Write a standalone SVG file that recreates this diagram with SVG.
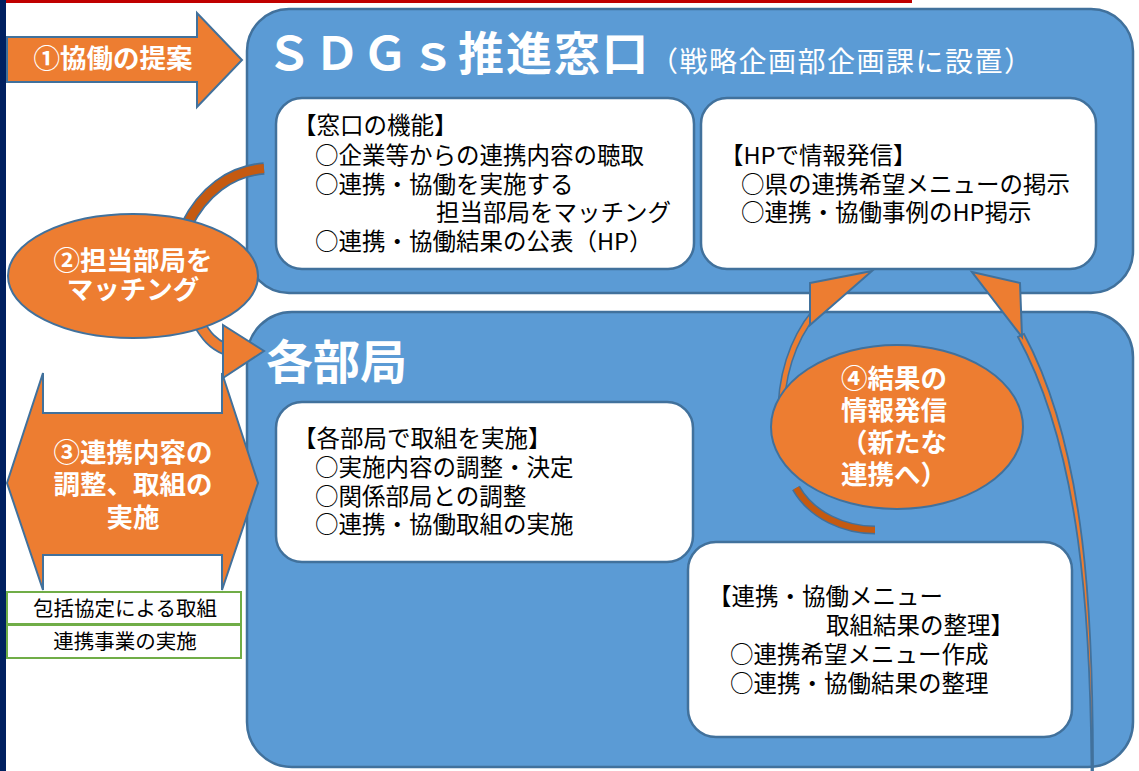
<svg xmlns="http://www.w3.org/2000/svg" width="1139" height="771" viewBox="0 0 1139 771">
<style>
.blue{fill:#5B9BD5;stroke:#41719C;stroke-width:2.5}
.wbox{fill:#FFFFFF;stroke:#41719C;stroke-width:2.5}
.org{fill:#ED7D31;stroke:#41719C;stroke-width:2}
.t{font-family:"Noto Sans CJK JP","Noto Sans",sans-serif;fill:#000000;font-size:23.5px}
.w{font-family:"Noto Sans CJK JP","Noto Sans",sans-serif;fill:#FFFFFF;font-weight:bold;font-size:26.5px}
.g{font-family:"Noto Sans CJK JP","Noto Sans",sans-serif;fill:#000000;font-size:20.5px}
.bandOut{fill:none;stroke:#41719C;stroke-linecap:butt}
</style>
<rect x="0" y="0" width="1139" height="771" fill="#FFFFFF"/>
<rect x="0" y="0" width="6" height="771" fill="#002060"/>
<rect x="6" y="0" width="906" height="3" fill="#C00000"/>

<g id="sdgs-window">
<rect class="blue" x="247" y="9" width="886" height="284" rx="42"/>
<text x="266" y="70" font-family="'Noto Sans CJK JP','Noto Sans',sans-serif" font-weight="bold" font-size="46" letter-spacing="2" fill="#FFFFFF">ＳＤＧｓ推進窓口</text>
<text x="650" y="72" font-family="'Noto Sans CJK JP','Noto Sans',sans-serif" font-size="28" letter-spacing="1.5" fill="#FFFFFF">（戦略企画部企画課に設置）</text>
</g>
<g id="departments">
<rect class="blue" x="247" y="312" width="886" height="455" rx="45"/>
<text x="266" y="379" font-family="'Noto Sans CJK JP','Noto Sans',sans-serif" font-weight="bold" font-size="47" fill="#FFFFFF">各部局</text>
</g>

<g id="window-functions">
<rect class="wbox" x="276" y="98" width="418" height="171" rx="26"/>
<text class="t" x="293" y="134">【窓口の機能】</text>
<text class="t" x="315" y="164">○企業等からの連携内容の聴取</text>
<text class="t" x="315" y="193">○連携・協働を実施する</text>
<text class="t" x="436" y="221">担当部局をマッチング</text>
<text class="t" x="315" y="250">○連携・協働結果の公表（HP）</text>
</g>
<g id="hp-info">
<rect class="wbox" x="701" y="98" width="395" height="171" rx="26"/>
<text class="t" x="720" y="164">【HPで情報発信】</text>
<text class="t" x="741" y="193">○県の連携希望メニューの掲示</text>
<text class="t" x="741" y="221">○連携・協働事例のHP掲示</text>
</g>
<g id="dept-implementation">
<rect class="wbox" x="276" y="402" width="417" height="160" rx="26"/>
<text class="t" x="293" y="447">【各部局で取組を実施】</text>
<text class="t" x="315" y="476">○実施内容の調整・決定</text>
<text class="t" x="315" y="505">○関係部局との調整</text>
<text class="t" x="315" y="533">○連携・協働取組の実施</text>
</g>
<g id="menu-results">
<rect class="wbox" x="688" y="542" width="384" height="195" rx="28"/>
<text class="t" x="708" y="605">【連携・協働メニュー</text>
<text class="t" x="826" y="634">取組結果の整理】</text>
<text class="t" x="730" y="663">○連携希望メニュー作成</text>
<text class="t" x="730" y="692">○連携・協働結果の整理</text>
</g>

<g id="connectors">
<!-- ① proposal arrow -->
<polygon class="org" points="7,37 197,37 197,13 242,60 197,107 197,82 7,82"/>
<!-- ② curved arrow band -->
<path class="bandOut" stroke-width="12.5" d="M264,168.5 C230,171 203,192 186,226"/>
<path fill="none" stroke="#C55A11" stroke-width="9" d="M264,168.5 C230,171 203,192 186,226"/>
<path class="bandOut" stroke-width="12.5" d="M198,322 C206,336 213,344 225,349"/>
<path fill="none" stroke="#ED7D31" stroke-width="9" d="M198,322 C206,336 213,344 225,349"/>
<polygon class="org" points="223,325 264,351 223,378"/>
<!-- ③ left-right arrow -->
<polygon class="org" points="7,483 43,373 43,413 222,413 222,373 258,483 222,590 222,555 43,555 43,590"/>
<!-- ④ curved arrow (left) -->
<path class="bandOut" stroke-width="9" d="M875,530 C845,530 812,516 796,488"/>
<path fill="none" stroke="#C55A11" stroke-width="6" d="M875,530 C845,530 812,516 796,488"/>
<path class="bandOut" stroke-width="7.5" d="M781,420 C780,378 792,340 815,312"/>
<path fill="none" stroke="#ED7D31" stroke-width="4.5" d="M781,420 C780,378 792,340 815,312"/>
<polygon class="org" points="810,283 872,271 810,325"/>
<!-- ④ long arrow (right) -->
<path fill="#ED7D31" stroke="#41719C" stroke-width="1.8" d="M1093,771 C1093,620 1087,452 1024,334 L1018,337 C1081,452 1090.5,620 1091.5,771 Z"/>
<polygon class="org" points="972,272 1020,283 1022,337"/>
</g>

<g id="matching">
<ellipse class="org" cx="133" cy="276" rx="125" ry="62"/>
<text class="w" x="133" y="270" text-anchor="middle">②担当部局を</text>
<text class="w" x="133" y="299" text-anchor="middle">マッチング</text>
</g>
<g id="proposal-label">
<text class="w" x="113" y="68" text-anchor="middle">①協働の提案</text>
</g>
<g id="coordination-label">
<text class="w" x="133" y="462" text-anchor="middle">③連携内容の</text>
<text class="w" x="133" y="494" text-anchor="middle">調整、取組の</text>
<text class="w" x="133" y="527" text-anchor="middle">実施</text>
</g>
<g id="result-info">
<ellipse class="org" cx="897" cy="427" rx="126" ry="82"/>
<text class="w" x="841" y="388">④結果の</text>
<text class="w" x="841" y="420">情報発信</text>
<text class="w" x="841" y="452">（新たな</text>
<text class="w" x="841" y="484">連携へ）</text>
</g>
<g id="comprehensive-agreement">
<rect x="7" y="592" width="234" height="32" fill="#FFFFFF" stroke="#70AD47" stroke-width="2"/>
<text class="g" x="125" y="616" text-anchor="middle">包括協定による取組</text>
</g>
<g id="joint-projects">
<rect x="7" y="625" width="234" height="33" fill="#FFFFFF" stroke="#70AD47" stroke-width="2"/>
<text class="g" x="125" y="649" text-anchor="middle">連携事業の実施</text>
</g>
</svg>
